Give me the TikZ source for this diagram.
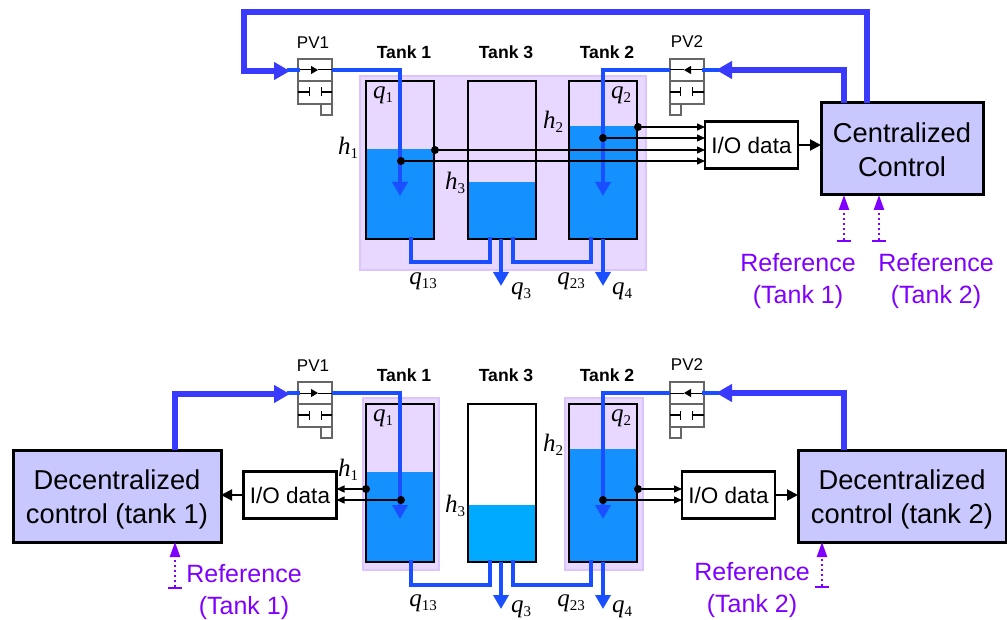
\documentclass[tikz,border=0pt]{standalone}
\usepackage{fontspec}
\setmainfont{Liberation Sans}
\newfontfamily\timesfont{Liberation Serif}
\usetikzlibrary{arrows.meta}
\definecolor{pipeblue}{HTML}{1A4FFF}
\definecolor{ctrlblue}{HTML}{3A3AFF}
\definecolor{waterblue}{HTML}{1490FF}
\definecolor{waterthree}{HTML}{00AAFF}
\definecolor{backlilac}{HTML}{E8D8FF}
\definecolor{edgelilac}{HTML}{DCC4FF}
\definecolor{ctrlfill}{HTML}{C8C8FF}
\definecolor{refpurple}{HTML}{8000FF}
\newcommand{\lvl}[2]{{\fontsize{25}{25}\timesfont\itshape #1}\raisebox{-4pt}{\fontsize{15}{15}\timesfont #2}}

\begin{document}
\begin{tikzpicture}[x=1pt,y=-1pt,inner sep=0pt,outer sep=0pt,
backarea/.style={draw=edgelilac,fill=backlilac,line width=2pt,rectangle,anchor=north west},
tankbox/.style={draw,rectangle,line width=2pt,anchor=north west,minimum width=68pt,minimum height=158pt},
water/.style={fill=#1,rectangle,anchor=south west,minimum width=68pt},
iobox/.style={draw,fill=white,rectangle,line width=2.6pt,minimum width=93pt,minimum height=46.5pt,font=\fontsize{22.5}{27}\selectfont},
ctrlbox/.style={draw,fill=ctrlfill,rectangle,line width=3pt,minimum height=92pt,align=center,font=\fontsize{27.3}{34}\selectfont},
sensdot/.style={fill,circle,minimum size=8pt},
sens/.style={line width=1.3pt,-{Triangle[width=7pt,length=8pt]}},
sig/.style={line width=2pt,-{Triangle[width=11pt,length=11pt]}},
pipe/.style={pipeblue,line width=4.4pt,line cap=rect},
pipetip/.style={pipeblue,line width=4.4pt,-{Triangle[width=15pt,length=14pt]}},
ctrl/.style={ctrlblue,line width=5.4pt,line join=miter,-{Triangle[width=17pt,length=16pt]}},
refline/.style={refpurple,line width=2.4pt,dash pattern=on 2.5pt off 2.5pt,{Bar[width=14pt,length=1.5pt]}-{Triangle[width=10pt,length=15pt]}},
reftext/.style={refpurple,align=center,font=\fontsize{25}{32}\selectfont},
tanktext/.style={font=\fontsize{17.6}{20}\bfseries\selectfont},
pvtext/.style={font=\fontsize{17}{20}\selectfont},
valve/.pic={
  \draw[black!60,line width=1.4pt] (0,0) rectangle (34,45) (0,22) -- (34,22) (23,45) rectangle (34,56);
  \draw[line width=1pt,-{Triangle[width=8pt,length=7pt]}] (0,11) -- (20,11);
  \draw[line width=1pt] (20,11) -- (34,11);
  \draw[line width=1.3pt,{Bar[width=9pt,length=1.3pt]}-] (12,33) -- (0,33);
  \draw[line width=1.3pt,{Bar[width=9pt,length=1.3pt]}-] (23,33) -- (34,33);
  \coordinate (-in) at (0,11);
  \coordinate (-out) at (34,11);
}]
\useasboundingbox (0,0) rectangle (1007,620);

% top plant, all three tanks share the lilac area
\draw (360,76) node[backarea,minimum width=286pt,minimum height=194pt] (topback) {};
\draw (366,239) node[water=waterblue,minimum height=90pt] (wa1) {};
\draw (468,239) node[water=waterblue,minimum height=57pt] (wa3) {};
\draw (569,239) node[water=waterblue,minimum height=113pt] (wa2) {};
\draw (366,81) node[tankbox] (ta1) {};
\draw (468,81) node[tankbox] (ta3) {};
\draw (569,81) node[tankbox] (ta2) {};
\draw (404,52) node[tanktext] (tla1) {Tank 1};
\draw (506,52) node[tanktext] (tla3) {Tank 3};
\draw (607,52) node[tanktext] (tla2) {Tank 2};

\draw (298,59) pic (pva) {valve};
\draw (704,59) pic[xscale=-1] (pvb) {valve};
\draw (313,43) node[pvtext] (pla) {PV1};
\draw (687,42) node[pvtext] (plb) {PV2};

\draw (751.5,145) node[iobox] (iot) {I/O data};
\draw (902,149) node[ctrlbox,minimum width=162pt] (cc) {\rule{0pt}{22pt}Centralized\\Control};

% bottom plant, lilac only behind tank 1 and tank 2
\draw (363,398) node[backarea,minimum width=76pt,minimum height=172pt] (backa) {};
\draw (565,398) node[backarea,minimum width=78pt,minimum height=172pt] (backb) {};
\draw (366,562) node[water=waterblue,minimum height=90pt] (wb1) {};
\draw (468,562) node[water=waterthree,minimum height=57pt] (wb3) {};
\draw (569,562) node[water=waterblue,minimum height=113pt] (wb2) {};
\draw (366,404) node[tankbox] (tb1) {};
\draw (468,404) node[tankbox] (tb3) {};
\draw (569,404) node[tankbox] (tb2) {};
\draw (404,375) node[tanktext] (tlb1) {Tank 1};
\draw (506,375) node[tanktext] (tlb3) {Tank 3};
\draw (607,375) node[tanktext] (tlb2) {Tank 2};

\draw (298,382) pic (pvc) {valve};
\draw (704,382) pic[xscale=-1] (pvd) {valve};
\draw (313,366) node[pvtext] (plc) {PV1};
\draw (687,365) node[pvtext] (pld) {PV2};

\draw (290,495) node[iobox] (iol) {I/O data};
\draw (728.5,495) node[iobox] (ior) {I/O data};
\draw (117,496) node[ctrlbox,minimum width=208pt] (dca) {\rule{0pt}{26pt}Decentralized\\control (tank 1)};
\draw (902,496) node[ctrlbox,minimum width=208pt] (dcb) {\rule{0pt}{26pt}Decentralized\\control (tank 2)};

% free ends of the pipes
\coordinate (tipa) at (400,196);
\coordinate (tipb) at (603,196);
\coordinate (tipc) at (400,519);
\coordinate (tipd) at (603,519);
\coordinate (qtop3) at (501,286);
\coordinate (qtop4) at (603,286);
\coordinate (qbot3) at (501,609);
\coordinate (qbot4) at (603,609);

% inflow, top
\draw[ctrl] (867,103) -- (867,12) -- (244,12) -- (244,71) -- (290,71);
\draw[pipe] (289,70) -- (pva-in);
\draw[pipetip] (pva-out) -| (tipa);
\draw[ctrl] (cc.north -| 844,0) -- (844,70) -- (716,70);
\draw[pipe] (717,70) -- (pvb-in);
\draw[pipetip] (pvb-out) -| (tipb);

% outflow, top
\draw[pipe] (ta1.south) ++(11,0) -- ++(0,23) -- ++(79,0) -- ++(0,-23);
\draw[pipe] (ta3.south) ++(11,0) -- ++(0,23) -- ++(78,0) -- ++(0,-23);
\draw[pipetip] (ta3.south -| qtop3) -- (qtop3);
\draw[pipetip] (ta2.south -| qtop4) -- (qtop4);

% inflow, bottom
\draw[ctrl] (dca.north -| 175,0) -- (175,394) -- (290,394);
\draw[pipe] (289,393) -- (pvc-in);
\draw[pipetip] (pvc-out) -| (tipc);
\draw[ctrl] (dcb.north -| 844,0) -- (844,393) -- (716,393);
\draw[pipe] (717,393) -- (pvd-in);
\draw[pipetip] (pvd-out) -| (tipd);

% outflow, bottom
\draw[pipe] (tb1.south) ++(11,0) -- ++(0,23) -- ++(79,0) -- ++(0,-23);
\draw[pipe] (tb3.south) ++(11,0) -- ++(0,23) -- ++(78,0) -- ++(0,-23);
\draw[pipetip] (tb3.south -| qbot3) -- (qbot3);
\draw[pipetip] (tb2.south -| qbot4) -- (qbot4);

% level and flow sensors
\draw (435,150) node[sensdot] (sa) {};
\draw (401,161) node[sensdot] (sb) {};
\draw (638,127) node[sensdot] (sc) {};
\draw (603,138) node[sensdot] (sd) {};
\draw (366,489) node[sensdot] (se) {};
\draw (401,500) node[sensdot] (sf) {};
\draw (638,489) node[sensdot] (sg) {};
\draw (603,500) node[sensdot] (sh) {};
\draw[sens] (sa) -- (sa -| iot.west);
\draw[sens] (sb) -- (sb -| iot.west);
\draw[sens] (sc) -- (sc -| iot.west);
\draw[sens] (sd) -- (sd -| iot.west);
\draw[sens] (se) -- (se -| iol.east);
\draw[sens] (sf) -- (sf -| iol.east);
\draw[sens] (sg) -- (sg -| ior.west);
\draw[sens] (sh) -- (sh -| ior.west);
\draw[sig] (iot.east) -- (cc.west |- iot.east);
\draw[sig] (iol.west) -- (dca.east |- iol.west);
\draw[sig] (ior.east) -- (dcb.west |- ior.east);

% references
\coordinate (refa) at (844,242);
\coordinate (refb) at (879,242);
\coordinate (refc) at (175,589);
\coordinate (refd) at (822,588);
\draw[refline] (refa) -- (refa |- cc.south);
\draw[refline] (refb) -- (refb |- cc.south);
\draw[refline] (refc) -- (refc |- dca.south);
\draw[refline] (refd) -- (refd |- dcb.south);
\draw (798,281) node[reftext] (rta) {Reference\\(Tank 1)};
\draw (936,281) node[reftext] (rtb) {Reference\\(Tank 2)};
\draw (244,592) node[reftext] (rtc) {Reference\\(Tank 1)};
\draw (752,590) node[reftext] (rtd) {Reference\\(Tank 2)};

% level and flow labels
\draw (383,95) node (lqa) {\lvl{q}{1}};
\draw (621,95) node (lqb) {\lvl{q}{2}};
\draw (348,148) node (lha) {\lvl{h}{1}};
\draw (553,122) node (lhb) {\lvl{h}{2}};
\draw (455,183) node (lhc) {\lvl{h}{3}};
\draw (423,281) node (lqc) {\lvl{q}{13}};
\draw (521,291) node (lqd) {\lvl{q}{3}};
\draw (571,281) node (lqe) {\lvl{q}{23}};
\draw (622,291) node (lqf) {\lvl{q}{4}};
\draw (383,418) node (lqg) {\lvl{q}{1}};
\draw (621,418) node (lqh) {\lvl{q}{2}};
\draw (348,470) node (lhd) {\lvl{h}{1}};
\draw (553,445) node (lhe) {\lvl{h}{2}};
\draw (455,506) node (lhf) {\lvl{h}{3}};
\draw (423,603) node (lqi) {\lvl{q}{13}};
\draw (521,609) node (lqj) {\lvl{q}{3}};
\draw (571,603) node (lqk) {\lvl{q}{23}};
\draw (622,609) node (lql) {\lvl{q}{4}};
\end{tikzpicture}
\end{document}
